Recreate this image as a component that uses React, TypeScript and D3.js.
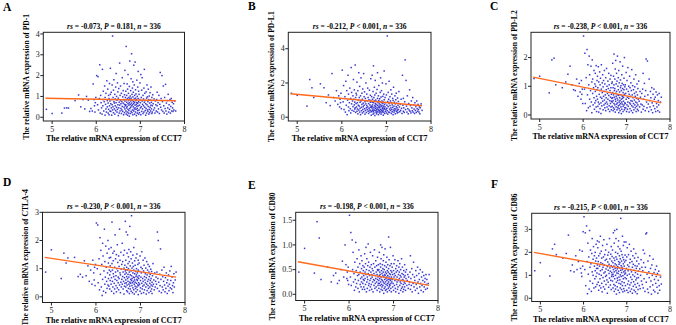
import React from 'react'
import * as d3 from 'd3'

// CCT7 expression per sample (shared x for every panel)
const cct7 = [
  4.87, 5.0, 5.22, 5.28, 5.33, 5.37, 5.52, 5.6, 5.65, 5.7,
  5.74, 5.78, 5.82, 5.85, 5.88, 5.91, 5.93, 5.95, 5.96, 5.97,
  5.98, 5.99,
  6.01, 6.03, 6.04, 6.05, 6.07, 6.08, 6.09, 6.1, 6.11, 6.12,
  6.13, 6.14, 6.15, 6.15, 6.16, 6.17, 6.18, 6.19, 6.2, 6.2,
  6.21, 6.22, 6.22, 6.23, 6.24, 6.25, 6.25, 6.26, 6.27, 6.27,
  6.28, 6.28, 6.29, 6.29, 6.3, 6.3, 6.31, 6.31, 6.32, 6.32,
  6.33, 6.33, 6.34, 6.34, 6.35, 6.35, 6.36, 6.36, 6.37, 6.37,
  6.38, 6.38, 6.39, 6.39, 6.4, 6.4, 6.41, 6.41, 6.42, 6.42,
  6.43, 6.43, 6.44, 6.44, 6.45, 6.45, 6.46, 6.46, 6.47, 6.47,
  6.48, 6.48, 6.49, 6.49, 6.5, 6.5, 6.51, 6.51, 6.52, 6.52,
  6.53, 6.53, 6.54, 6.54, 6.55, 6.55, 6.56, 6.56, 6.57, 6.57,
  6.58, 6.58, 6.59, 6.59, 6.6, 6.6, 6.61, 6.61, 6.62, 6.62,
  6.63, 6.63, 6.64, 6.64, 6.64, 6.65, 6.65, 6.65, 6.66, 6.66,
  6.67, 6.67, 6.67, 6.68, 6.68, 6.68, 6.69, 6.69, 6.69, 6.7,
  6.7, 6.7, 6.71, 6.71, 6.71, 6.72, 6.72, 6.72, 6.73, 6.73,
  6.73, 6.74, 6.74, 6.74, 6.75, 6.75, 6.75, 6.76, 6.76, 6.76,
  6.77, 6.77, 6.77, 6.78, 6.78, 6.78, 6.79, 6.79, 6.79, 6.8,
  6.8, 6.8, 6.81, 6.81, 6.81, 6.82, 6.82, 6.82, 6.83, 6.83,
  6.83, 6.84, 6.84, 6.84, 6.85, 6.85, 6.85, 6.86, 6.86, 6.86,
  6.87, 6.87, 6.87, 6.88, 6.88, 6.88, 6.89, 6.89, 6.89, 6.9,
  6.9, 6.9, 6.91, 6.91, 6.91, 6.92, 6.92, 6.92, 6.93, 6.93,
  6.93, 6.94, 6.94, 6.94, 6.95, 6.95, 6.95, 6.96, 6.96, 6.96,
  6.97, 6.97, 6.98, 6.98, 6.99, 6.99, 7.0, 7.0, 7.01, 7.01,
  7.02, 7.02, 7.03, 7.03, 7.04, 7.04, 7.05, 7.05, 7.06, 7.06,
  7.07, 7.07, 7.08, 7.08, 7.09, 7.09, 7.1, 7.1, 7.11, 7.11,
  7.12, 7.12, 7.13, 7.13, 7.14, 7.14, 7.15, 7.15, 7.16, 7.16,
  7.17, 7.17, 7.18, 7.18, 7.19, 7.19, 7.2, 7.2, 7.21, 7.21,
  7.22, 7.22, 7.23, 7.23, 7.24, 7.24, 7.25, 7.25, 7.26, 7.26,
  7.27, 7.27, 7.28, 7.29, 7.3, 7.31, 7.32, 7.33, 7.34, 7.35,
  7.36, 7.37, 7.38, 7.38, 7.39, 7.4, 7.41, 7.42, 7.43, 7.44,
  7.45, 7.46, 7.47, 7.48, 7.49, 7.5, 7.51, 7.52, 7.53, 7.54,
  7.55, 7.56, 7.57, 7.58, 7.59, 7.6, 7.61, 7.62, 7.63, 7.64,
  7.65, 7.66, 7.67, 7.68, 7.69, 7.7, 7.71, 7.72, 7.73, 7.74,
  7.75, 7.76, 7.78, 7.8,
]

const pd1 = [
  0.38, 0.18, 0.2, 0.44, 0.45, 0.44, 0.8, 1.07, 0.5, 0.85,
  0.4, 1.0, 0.82, 0.28, 0.42, 0.3, 1.6, 0.85, 0.55, 0.25,
  0.7, 0.95,
  2.0, 0.6, 1.95, 0.35, 0.9, 2.52, 0.2, 1.05, 0.7, 0.45,
  0.15, 2.3, 0.85, 0.55, 1.25, 0.3, 0.75, 1.5, 0.1, 0.95,
  0.62, 1.15, 0.4, 0.25, 1.75, 0.8, 0.5, 1.35, 0.2, 0.68,
  1.05, 0.38, 0.9, 0.12, 1.62, 0.55, 0.78, 0.3, 2.35, 1.1,
  0.65, 0.28, 1.2, 0.45, 0.85, 0.1, 1.55, 0.6, 3.9, 0.35,
  0.95, 0.5, 1.3, 0.22, 0.75, 1.8, 0.4, 0.68, 1.1, 0.15,
  0.88, 0.55, 1.45, 0.32, 0.7, 2.1, 0.48, 1.0, 0.25, 0.82,
  1.65, 0.38, 0.6, 1.22, 0.08, 0.92, 0.45, 1.38, 0.72, 0.2,
  2.6, 0.58, 1.05, 0.3, 0.8, 1.5, 0.42, 0.65, 0.18, 1.15,
  0.75, 0.35, 1.9, 0.52, 0.98, 0.28, 0.68, 1.28, 0.12, 0.85,
  0.48, 1.62, 0.62, 0.22, 1.08, 0.4, 0.78, 2.25, 0.55, 0.95,
  0.3, 1.25, 0.6, 0.15, 0.85, 3.4, 0.45, 1.05, 0.72, 0.25,
  1.6, 0.52, 0.9, 0.1, 1.35, 0.65, 0.38, 2.05, 0.8, 0.2,
  1.15, 0.58, 0.95, 0.32, 1.48, 0.7, 0.05, 0.88, 2.7, 0.42,
  1.02, 0.62, 0.18, 1.28, 0.78, 0.48, 1.85, 0.28, 0.92, 0.55,
  3.05, 0.68, 1.1, 0.22, 0.82, 1.4, 0.35, 0.6, 1.7, 0.12,
  0.98, 0.5, 0.75, 1.2, 0.3, 2.5, 0.65, 0.88, 0.4, 1.55,
  0.15, 0.72, 1.05, 0.45, 2.65, 0.58, 0.92, 0.25, 1.32, 0.8,
  0.38, 1.12, 0.62, 0.08, 0.85, 1.78, 0.52, 0.7, 0.2, 1.0,
  0.42, 1.45, 0.68, 0.32, 0.9, 2.2, 0.55, 0.15, 1.25, 0.75,
  0.35, 1.1, 0.58, 0.22, 0.85, 1.65, 0.45, 0.7, 2.05, 0.12,
  0.95, 0.5, 1.3, 0.28, 0.78, 1.9, 0.4, 0.62, 1.05, 0.18,
  0.88, 0.55, 1.4, 0.25, 0.72, 2.3, 0.48, 1.15, 0.32, 0.8,
  0.1, 0.65, 1.22, 0.42, 0.92, 0.2, 1.55, 0.6, 0.35, 0.98,
  0.75, 0.28, 1.35, 0.52, 0.15, 0.85, 1.02, 0.38, 0.68, 0.22,
  1.18, 0.48, 0.82, 0.3, 0.58, 1.45, 0.4, 0.72, 0.18, 0.95,
  0.55, 0.25, 1.08, 0.65, 0.35, 0.88, 0.45, 0.2, 0.78, 0.6,
  0.3, 0.85, 0.55, 1.2, 0.25, 0.7, 0.4, 1.05, 0.18, 0.62,
  2.15, 0.48, 0.9, 0.35, 2.0, 0.75, 0.28, 1.5, 0.55, 0.2,
  0.95, 0.42, 1.58, 0.3, 0.68, 0.15, 0.8, 0.45, 1.1, 0.25,
  0.6, 0.38, 0.85, 0.2, 0.52, 0.9, 0.3, 0.72, 0.45, 0.28,
  0.65, 0.35, 0.78, 0.3,
]

const pdl1 = [
  1.4, 1.28, 0.65, 2.2, 1.72, 1.15, 1.95, 1.72, 0.85, 1.3,
  0.68, 2.55, 1.15, 0.95, 1.55, 0.75, 1.25, 0.6, 1.05, 0.85,
  1.4, 0.5,
  2.75, 0.9, 1.85, 0.45, 1.2, 0.3, 2.1, 0.7, 1.55, 0.15,
  1.0, 2.45, 0.6, 1.35, 0.38, 0.85, 1.7, 0.5, 1.1, 0.25,
  2.9, 0.78, 1.45, 0.4, 0.95, 1.25, 0.62, 2.2, 0.35, 1.05,
  0.72, 1.6, 0.48, 0.88, 3.05, 0.55, 1.15, 0.28, 0.8, 1.4,
  0.6, 1.3, 0.35, 2.05, 0.85, 0.48, 1.55, 0.2, 1.0, 0.7,
  2.6, 0.42, 1.15, 0.65, 0.3, 1.8, 0.88, 0.52, 1.25, 0.15,
  0.95, 2.3, 0.58, 0.38, 1.4, 0.75, 0.25, 1.05, 1.65, 0.45,
  0.82, 0.62, 2.55, 0.32, 1.2, 0.7, 0.5, 1.48, 0.9, 0.18,
  1.1, 0.4, 0.78, 2.0, 0.55, 0.28, 1.35, 0.68, 0.95, 0.45,
  1.7, 0.6, 0.35, 1.15, 0.8, 0.22, 1.02, 0.52, 1.58, 0.42,
  0.72, 0.3, 1.28, 0.88, 0.58, 2.25, 0.4, 0.98, 0.65, 0.12,
  0.55, 1.2, 0.32, 0.88, 2.45, 0.62, 0.4, 1.05, 0.72, 0.18,
  1.5, 0.48, 0.85, 3.0, 0.35, 1.15, 0.58, 0.25, 0.95, 1.75,
  0.42, 0.68, 1.3, 0.1, 0.8, 0.52, 2.15, 0.38, 1.0, 0.62,
  0.28, 1.4, 0.75, 0.45, 0.92, 0.2, 1.62, 0.55, 0.35, 1.1,
  0.7, 2.6, 0.48, 0.85, 0.3, 1.25, 0.6, 0.15, 0.98, 0.42,
  1.85, 0.65, 0.38, 0.78, 1.08, 0.25, 0.55, 1.45, 0.9, 0.32,
  0.72, 2.3, 0.45, 0.18, 1.18, 0.62, 0.85, 0.4, 1.55, 0.28,
  0.68, 0.95, 0.5, 2.0, 0.35, 0.8, 1.22, 0.58, 0.12, 0.88,
  0.42, 1.35, 0.65, 0.3, 1.02, 0.52, 2.7, 0.75, 0.22, 0.48,
  0.6, 1.15, 0.35, 0.85, 1.95, 0.45, 0.25, 1.3, 0.7, 0.52,
  4.75, 0.38, 0.92, 0.18, 1.45, 0.62, 0.3, 1.05, 0.8, 2.1,
  0.48, 0.28, 1.2, 0.68, 0.4, 0.95, 1.6, 0.55, 0.22, 0.85,
  1.35, 0.45, 0.72, 0.32, 1.1, 0.58, 0.15, 0.98, 0.42, 1.75,
  0.65, 0.3, 0.88, 0.5, 1.25, 0.38, 0.2, 0.78, 1.02, 0.48,
  0.62, 1.4, 0.35, 0.82, 0.25, 0.55, 1.12, 0.42, 0.7, 0.28,
  0.92, 0.45, 1.5, 0.6, 0.32, 0.75, 0.4, 1.05, 0.52, 0.22,
  2.45, 0.7, 0.35, 1.1, 0.55, 0.28, 0.9, 3.35, 0.45, 2.15,
  0.65, 0.3, 1.25, 0.5, 0.2, 0.8, 0.42, 1.6, 0.35, 0.68,
  0.25, 0.95, 0.55, 0.38, 1.15, 0.3, 0.72, 0.48, 0.22, 0.85,
  0.4, 0.62, 0.28, 0.95, 0.5, 0.35, 0.75, 0.45, 0.3, 0.6,
  0.2, 0.55, 0.78, 0.4,
]

const pdl2 = [
  1.27, 1.35, 0.77, 1.92, 1.98, 1.05, 0.95, 1.15, 1.42, 1.7,
  1.05, 0.88, 0.85, 1.25, 0.65, 1.1, 0.8, 0.55, 1.2, 0.72,
  0.9, 0.4,
  2.75, 0.9, 2.15, 0.4, 1.3, 0.15, 2.28, 0.7, 1.75, 0.25,
  1.05, 2.05, 0.55, 1.4, 0.3, 0.85, 1.7, 0.45, 1.15, 0.08,
  1.92, 0.75, 1.25, 0.35, 0.95, 1.55, 0.6, 0.2, 1.08, 0.42,
  0.82, 1.45, 0.5, 1.0, 0.28, 1.72, 0.65, 0.12, 0.88, 1.2,
  0.55, 1.35, 0.3, 0.95, 1.68, 0.45, 0.1, 1.15, 0.72, 0.38,
  1.5, 0.85, 0.22, 1.05, 0.62, 1.28, 0.42, 0.05, 0.9, 1.75,
  0.58, 0.32, 1.12, 0.78, 0.48, 1.4, 0.18, 0.98, 0.65, 1.2,
  0.35, 0.82, 1.55, 0.52, 0.25, 1.08, 0.7, 0.4, 1.3, 0.15,
  0.88, 0.6, 1.62, 0.45, 0.28, 1.0, 0.75, 0.38, 1.18, 0.55,
  0.2, 0.92, 1.45, 0.68, 0.32, 1.05, 0.5, 0.12, 0.85, 1.25,
  0.62, 0.4, 0.95, 0.28, 1.38, 0.72, 0.48, 0.18, 1.1, 0.58,
  0.45, 1.15, 0.3, 0.78, 1.8, 0.6, 0.15, 0.95, 0.5, 1.35,
  0.25, 0.7, 1.05, 0.4, 2.12, 0.85, 0.2, 0.62, 1.25, 0.35,
  0.92, 0.55, 1.6, 0.1, 0.75, 1.9, 0.48, 0.28, 1.08, 0.65,
  1.45, 0.38, 0.82, 0.18, 1.18, 0.58, 2.05, 0.42, 0.7, 0.25,
  1.0, 0.52, 1.3, 0.32, 0.88, 0.08, 0.68, 1.55, 0.45, 0.22,
  1.12, 0.6, 0.8, 0.35, 1.85, 0.5, 0.15, 0.95, 0.4, 1.22,
  0.7, 0.28, 1.02, 0.55, 0.05, 0.85, 1.4, 0.45, 0.2, 0.65,
  1.1, 0.38, 0.92, 0.58, 1.7, 0.3, 0.78, 0.12, 1.05, 0.48,
  0.62, 1.28, 0.35, 0.88, 0.18, 0.72, 2.0, 0.42, 0.25, 0.98,
  0.4, 1.05, 0.25, 0.75, 1.48, 0.55, 0.12, 0.9, 0.35, 1.2,
  0.62, 0.2, 1.65, 0.45, 0.82, 0.3, 1.0, 0.58, 0.1, 0.72,
  1.35, 0.42, 0.22, 0.95, 0.65, 0.38, 1.12, 0.5, 0.15, 0.85,
  1.58, 0.32, 0.7, 0.48, 0.08, 1.02, 0.6, 0.28, 0.88, 0.4,
  1.25, 0.18, 0.75, 0.52, 0.35, 0.98, 0.25, 0.65, 1.4, 0.45,
  0.12, 0.8, 0.58, 0.3, 1.08, 0.42, 0.2, 0.7, 0.92, 0.35,
  0.55, 0.15, 1.18, 0.48, 0.28, 0.82, 0.62, 0.38, 0.1, 0.75,
  0.35, 0.9, 0.2, 1.45, 0.55, 0.3, 1.1, 0.65, 0.15, 0.85,
  1.95, 0.45, 0.25, 1.88, 0.7, 0.38, 0.12, 1.25, 0.5, 0.28,
  0.82, 0.6, 0.18, 0.95, 0.42, 0.08, 0.72, 0.32, 0.9, 0.55,
  0.22, 0.62, 0.12, 0.8, 0.4, 0.28, 0.7, 0.15, 0.5, 0.35,
  0.75, 0.1, 0.45, 0.62,
]

const ctla4 = [
  0.88, 1.67, 0.65, 1.55, 1.2, 1.38, 1.4, 0.72, 0.8, 0.7,
  1.28, 0.75, 1.1, 0.55, 0.95, 0.45, 1.3, 0.85, 0.6, 1.05,
  0.4, 1.15,
  2.62, 1.0, 2.55, 0.5, 1.35, 0.25, 2.1, 0.8, 1.65, 0.35,
  1.15, 0.05, 1.9, 0.62, 1.45, 0.2, 0.92, 2.4, 0.45, 1.25,
  0.7, 1.8, 0.15, 1.05, 0.55, 1.55, 0.3, 0.85, 2.0, 0.42,
  1.2, 0.65, 1.7, 0.38, 0.95, 1.38, 0.28, 0.78, 1.1, 0.58,
  0.9, 1.4, 0.45, 1.75, 0.68, 0.2, 1.18, 2.65, 0.55, 0.95,
  1.55, 0.35, 0.82, 1.28, 0.12, 0.72, 1.62, 0.48, 1.05, 0.28,
  2.2, 0.62, 0.88, 1.35, 0.4, 0.75, 1.5, 0.18, 1.0, 0.58,
  1.85, 0.32, 0.92, 1.22, 0.5, 0.7, 1.45, 0.25, 1.08, 0.65,
  2.4, 0.42, 0.85, 1.3, 0.15, 0.78, 1.58, 0.52, 0.98, 0.35,
  1.15, 0.62, 1.9, 0.45, 0.72, 1.25, 0.28, 0.88, 1.48, 0.55,
  0.1, 1.02, 0.68, 1.65, 0.38, 0.8, 1.12, 0.48, 2.68, 0.92,
  0.6, 1.3, 0.35, 0.85, 2.3, 0.5, 1.05, 0.22, 0.72, 1.55,
  0.42, 0.95, 2.2, 0.65, 0.18, 1.18, 0.55, 0.8, 1.42, 0.3,
  1.0, 0.45, 1.68, 0.7, 0.12, 0.88, 1.25, 0.52, 2.5, 0.38,
  0.78, 1.1, 0.28, 0.62, 1.6, 0.48, 0.92, 0.2, 1.35, 0.58,
  0.75, 2.88, 0.4, 1.02, 0.65, 0.15, 1.2, 0.5, 0.85, 1.48,
  0.32, 0.7, 1.08, 0.55, 0.25, 0.95, 1.75, 0.45, 0.68, 0.1,
  1.28, 0.6, 0.82, 0.38, 1.12, 0.52, 2.05, 0.3, 0.9, 0.72,
  0.18, 1.38, 0.48, 0.78, 1.0, 0.35, 0.62, 1.52, 0.25, 0.85,
  0.58, 1.15, 0.42, 0.7, 0.08, 0.95, 1.3, 0.5, 0.65, 0.4,
  0.75, 1.2, 0.45, 0.9, 0.2, 1.45, 0.58, 0.32, 1.05, 0.7,
  0.12, 0.85, 1.6, 0.48, 0.28, 1.0, 0.65, 0.38, 1.3, 0.55,
  0.15, 0.92, 0.42, 1.12, 0.72, 0.25, 0.6, 1.38, 0.5, 0.82,
  0.35, 1.02, 0.1, 0.68, 1.25, 0.45, 0.78, 0.22, 0.95, 0.55,
  1.15, 0.4, 0.62, 0.3, 0.88, 0.15, 0.72, 1.08, 0.48, 0.35,
  0.8, 0.58, 0.2, 0.98, 0.42, 0.65, 0.28, 0.9, 0.52, 0.12,
  0.75, 0.38, 1.18, 0.45, 0.6, 0.25, 0.85, 0.35, 0.55, 0.7,
  0.45, 0.88, 2.3, 0.3, 0.65, 2.0, 0.52, 0.2, 0.8, 0.4,
  1.7, 0.62, 0.15, 0.95, 0.35, 0.72, 0.25, 0.55, 1.05, 0.42,
  0.18, 0.68, 0.3, 0.85, 0.5, 0.12, 0.6, 0.38, 0.78, 0.22,
  0.45, 0.92, 0.32, 0.58, 1.08, 0.28, 0.7, 0.4, 0.15, 0.5,
  0.82, 0.35, 0.6, 0.88,
]

const cd80 = [
  0.45, 0.93, 0.43, 1.47, 1.14, 0.3, 0.55, 0.25, 0.38, 0.43,
  0.22, 0.28, 0.5, 0.67, 0.35, 1.0, 0.6, 0.32, 0.45, 0.28,
  0.55, 0.2,
  1.6, 0.35, 1.25, 0.18, 1.1, 0.5, 0.85, 0.25, 0.42, 0.08,
  0.65, 0.3, 1.05, 0.15, 0.48, 0.22, 0.72, 0.38, 0.12, 0.55,
  0.28, 0.9, 0.4, 0.05, 0.62, 0.2, 0.45, 0.32, 0.78, 0.15,
  0.52, 0.25, 0.35, 0.68, 0.1, 0.42, 0.58, 0.22, 0.3, 0.48,
  0.38, 0.15, 0.55, 0.28, 0.82, 0.1, 0.45, 0.32, 0.62, 0.2,
  0.95, 0.4, 0.05, 0.5, 0.25, 0.72, 0.35, 0.12, 0.58, 0.3,
  1.02, 0.42, 0.18, 0.65, 0.22, 0.48, 0.08, 0.38, 0.55, 0.28,
  0.85, 0.15, 0.45, 0.32, 0.6, 0.2, 0.4, 0.1, 0.52, 0.35,
  0.78, 0.25, 0.48, 0.05, 0.3, 0.62, 0.18, 0.42, 0.9, 0.28,
  0.55, 0.12, 0.38, 0.22, 0.68, 0.32, 0.45, 0.15, 0.58, 0.25,
  0.4, 0.08, 0.5, 0.3, 0.75, 0.18, 0.35, 0.48, 0.22, 0.6,
  0.28, 0.5, 0.12, 0.38, 0.85, 0.22, 0.45, 0.05, 0.32, 0.62,
  0.18, 0.4, 1.0, 0.25, 0.55, 0.1, 0.35, 0.72, 0.2, 0.48,
  0.3, 0.95, 0.15, 0.42, 0.6, 0.08, 0.28, 0.52, 0.38, 0.18,
  0.68, 0.25, 0.45, 0.02, 0.35, 0.8, 0.22, 0.5, 0.12, 0.4,
  0.3, 0.58, 0.15, 0.38, 0.92, 0.25, 0.45, 0.08, 0.32, 0.65,
  0.2, 0.42, 0.1, 0.55, 0.28, 0.35, 0.75, 0.18, 0.48, 0.05,
  0.38, 0.22, 0.6, 0.3, 0.12, 0.45, 1.16, 0.25, 0.52, 0.15,
  0.35, 0.7, 0.2, 0.42, 0.08, 0.3, 0.58, 0.18, 0.4, 0.28,
  0.95, 0.12, 0.48, 0.22, 0.35, 0.62, 0.05, 0.32, 0.45, 0.25,
  0.3, 0.55, 0.15, 0.4, 0.78, 0.22, 0.48, 0.08, 0.35, 0.62,
  0.18, 0.42, 0.28, 0.7, 0.12, 0.38, 0.52, 0.05, 0.3, 0.45,
  0.2, 0.58, 0.25, 0.35, 0.1, 0.48, 0.68, 0.15, 0.4, 0.28,
  0.55, 0.02, 0.32, 0.45, 0.18, 0.62, 0.25, 0.38, 0.08, 0.5,
  0.22, 0.35, 0.72, 0.12, 0.42, 0.28, 0.15, 0.55, 0.3, 0.05,
  0.4, 0.2, 0.48, 0.1, 0.35, 0.25, 0.6, 0.15, 0.38, 0.22,
  0.45, 0.08, 0.32, 0.5, 0.18, 0.28, 0.4, 0.12, 0.35, 0.2,
  0.25, 0.45, 0.1, 0.78, 0.32, 0.18, 0.52, 0.05, 0.4, 0.22,
  0.65, 0.15, 0.35, 0.28, 0.08, 0.48, 0.2, 0.38, 0.12, 0.55,
  0.25, 0.02, 0.42, 0.3, 0.15, 0.5, 0.22, 0.08, 0.35, 0.18,
  0.45, 0.28, 0.05, 0.38, 0.15, 0.25, 0.32, 0.1, 0.4, 0.2,
  0.3, 0.12, 0.22, 0.4,
]

const cd86 = [
  1.2, 1.55, 0.97, 2.15, 2.35, 1.9, 1.75, 1.95, 2.75, 1.2,
  1.45, 1.15, 1.85, 1.25, 1.6, 2.1, 1.3, 1.1, 0.95, 2.05,
  1.4, 2.9,
  3.55, 1.25, 2.85, 0.55, 3.15, 1.6, 0.2, 2.4, 1.05, 1.8,
  0.4, 2.95, 1.35, 0.75, 2.1, 1.5, 0.3, 1.95, 1.15, 2.6,
  0.65, 1.7, 1.0, 2.25, 0.45, 1.4, 1.85, 0.85, 2.0, 1.2,
  0.5, 1.62, 2.35, 0.95, 1.3, 1.75, 0.6, 1.1, 2.5, 1.45,
  1.3, 2.2, 0.7, 1.6, 0.35, 1.85, 1.05, 2.45, 0.55, 1.4,
  1.95, 0.85, 1.2, 2.7, 0.45, 1.55, 1.0, 2.05, 0.65, 1.75,
  1.25, 0.28, 1.5, 2.3, 0.9, 1.35, 0.5, 1.8, 1.1, 2.55,
  0.75, 1.45, 1.9, 0.4, 1.15, 1.65, 0.95, 2.1, 1.28, 0.6,
  1.7, 1.0, 2.35, 0.8, 1.38, 0.22, 1.58, 1.88, 0.7, 1.22,
  2.0, 0.48, 1.48, 1.08, 2.6, 0.88, 1.32, 1.72, 0.58, 1.18,
  1.92, 0.78, 1.42, 2.25, 0.38, 1.12, 1.62, 0.95, 1.82, 1.02,
  1.35, 0.75, 2.1, 1.05, 0.45, 1.55, 2.85, 0.95, 1.25, 1.75,
  0.6, 1.4, 2.4, 0.3, 1.15, 1.65, 0.85, 2.95, 1.3, 0.55,
  1.5, 2.0, 1.0, 0.4, 1.8, 1.2, 2.6, 0.7, 1.45, 0.18,
  1.1, 1.7, 3.0, 0.88, 1.28, 0.5, 1.95, 1.38, 0.78, 2.25,
  1.08, 0.35, 1.6, 1.18, 2.5, 0.65, 1.48, 0.92, 1.85, 0.25,
  1.32, 2.15, 0.8, 1.55, 1.02, 0.45, 1.72, 3.48, 1.22, 0.62,
  1.42, 2.05, 0.95, 1.62, 0.38, 1.12, 1.9, 0.72, 1.35, 2.7,
  0.55, 1.25, 1.78, 0.98, 0.28, 1.5, 2.3, 0.85, 1.15, 1.68,
  0.42, 1.4, 2.45, 0.68, 1.05, 1.58, 0.32, 1.88, 1.2, 0.9,
  1.1, 0.55, 1.65, 2.45, 0.85, 1.3, 0.35, 1.8, 1.0, 2.2,
  0.62, 1.45, 0.25, 1.2, 1.9, 0.75, 1.38, 0.45, 2.35, 1.05,
  0.58, 1.55, 0.3, 1.7, 0.92, 1.25, 2.05, 0.68, 1.15, 0.4,
  1.6, 0.82, 1.35, 0.22, 1.85, 1.02, 0.52, 1.48, 2.15, 0.72,
  1.22, 0.35, 1.75, 0.95, 0.6, 1.42, 0.28, 1.12, 1.95, 0.8,
  1.3, 0.48, 1.62, 0.88, 0.2, 1.4, 1.05, 0.65, 1.78, 0.38,
  1.18, 0.9, 1.5, 0.55, 1.28, 0.42, 1.0, 1.68, 0.75, 1.35,
  0.6, 1.2, 2.1, 0.45, 1.55, 0.85, 1.95, 0.3, 1.35, 2.8,
  0.7, 2.85, 1.05, 0.4, 1.62, 0.25, 1.15, 0.9, 1.85, 0.5,
  1.3, 0.75, 0.18, 1.45, 1.0, 0.58, 1.7, 0.35, 1.12, 0.82,
  0.28, 1.25, 0.65, 0.95, 1.4, 0.48, 1.08, 0.22, 0.78, 1.18,
  0.55, 0.35, 0.92, 0.62,
]

const panelLetters = ['A', 'B', 'C', 'D', 'E', 'F']
const genes = ['PD-1', 'PD-L1', 'PD-L2', 'CTLA-4', 'CD80', 'CD86']
const geneValues = [pd1, pdl1, pdl2, ctla4, cd80, cd86]
const rsValues = ['-0.073', '-0.212', '-0.238', '-0.230', '-0.198', '-0.215']
const pValues = ['= 0.181', '< 0.001', '< 0.001', '< 0.001', '< 0.001', '< 0.001']
const sampleCount = 336
const xTicks = [5, 6, 7, 8]
const yTicks = [
  [0, 1, 2, 3, 4],
  [0, 2, 4],
  [0, 1, 2],
  [0, 1, 2, 3],
  [0, 0.5, 1.0, 1.5],
  [0, 1, 2, 3],
]
// fitted line: y at x = 4.85 and at x = 7.8
const fitX = [4.85, 7.8]
const fitY = [
  [0.91, 0.79],
  [1.37, 0.67],
  [1.32, 0.42],
  [1.4, 0.7],
  [0.66, 0.18],
  [2.0, 1.0],
]

// frame of each panel, in page pixels
const layout = [
  { left: 43.3, right: 184.5, top: 32.3, bottom: 121, yDom: [-0.18, 4.08], letter: [3, 11], ylOff: 17 },
  { left: 288.3, right: 431, top: 32.3, bottom: 121, yDom: [-0.22, 4.96], letter: [248, 10], ylOff: 17 },
  { left: 531, right: 670, top: 32.3, bottom: 119, yDom: [-0.14, 2.88], letter: [490, 10], ylOff: 17 },
  { left: 42.5, right: 185, top: 212.3, bottom: 302.5, yDom: [-0.2, 3.0], letter: [3, 186], ylOff: 17 },
  { left: 295.7, right: 438, top: 212.3, bottom: 300.5, yDom: [-0.125, 1.66], letter: [248, 189], ylOff: 23 },
  { left: 531.7, right: 670, top: 213.3, bottom: 301.5, yDom: [-0.14, 3.7], letter: [491, 188], ylOff: 17 },
]

const FONT = "'Times New Roman', 'Liberation Serif', serif"
const DOT = '#2424cc'
const FIT = '#ff6a1c'

function Panel({ i }: { i: number }) {
  const L = layout[i]
  const x = d3.scaleLinear().domain([4.8, 8]).range([L.left, L.right])
  const y = d3.scaleLinear().domain(L.yDom).range([L.bottom, L.top])
  const ys = geneValues[i]
  const n = Math.min(cct7.length, ys.length)
  const pts = d3.range(n).map((k) => [cct7[k], ys[k]])
  const fit = d3.line<number>().x((v) => x(v)).y((_, k) => y(fitY[i][k]))(fitX) || ''
  const cx = (L.left + L.right) / 2
  const cy = (L.top + L.bottom) / 2
  const fmt = i === 4 ? d3.format('.1f') : d3.format('d')

  return (
    <g fontFamily={FONT}>
      <text x={L.letter[0]} y={L.letter[1]} fontSize={11.5} fontWeight="bold">
        {panelLetters[i]}
      </text>
      <text x={cx} y={L.top - 3.6} textAnchor="middle" fontSize={7.5} fontWeight="bold">
        <tspan fontStyle="italic">rs</tspan> = {rsValues[i]}, <tspan fontStyle="italic">P</tspan> {pValues[i]},{' '}
        <tspan fontStyle="italic">n</tspan> = {sampleCount}
      </text>
      {pts.map(([px, py], k) => (
        <rect key={k} x={x(px) - 0.75} y={y(py) - 0.75} width={1.5} height={1.5} fill={DOT} opacity={0.9} />
      ))}
      <path d={fit} fill="none" stroke={FIT} strokeWidth={1.4} />
      <rect
        x={L.left}
        y={L.top}
        width={L.right - L.left}
        height={L.bottom - L.top}
        fill="none"
        stroke="#222"
        strokeWidth={1}
      />
      {xTicks.map((t) => (
        <g key={t}>
          <line x1={x(t)} x2={x(t)} y1={L.bottom} y2={L.bottom + 3} stroke="#222" strokeWidth={1} />
          <text x={x(t)} y={L.bottom + 10.5} textAnchor="middle" fontSize={8} fill="#222">
            {t}
          </text>
        </g>
      ))}
      {yTicks[i].map((t) => (
        <g key={t}>
          <line x1={L.left - 3} x2={L.left} y1={y(t)} y2={y(t)} stroke="#222" strokeWidth={1} />
          <text x={L.left - 3.5} y={y(t)} dy="0.33em" textAnchor="end" fontSize={8} fill="#222">
            {fmt(t)}
          </text>
        </g>
      ))}
      <text x={cx} y={L.bottom + 20} textAnchor="middle" fontSize={8} fontWeight="bold">
        The relative mRNA expression of CCT7
      </text>
      <text
        transform={`translate(${L.left - L.ylOff},${cy}) rotate(-90)`}
        textAnchor="middle"
        dy="0.35em"
        fontSize={7.6}
        fontWeight="bold"
      >
        The relative mRNA expression of {genes[i]}
      </text>
    </g>
  )
}

export default function App() {
  return (
    <svg
      width={676}
      height={325}
      style={{ position: 'absolute', left: 0, top: 0, background: '#fff' }}
    >
      <rect width={676} height={325} fill="#fff" />
      {panelLetters.map((_, i) => (
        <Panel key={i} i={i} />
      ))}
    </svg>
  )
}
